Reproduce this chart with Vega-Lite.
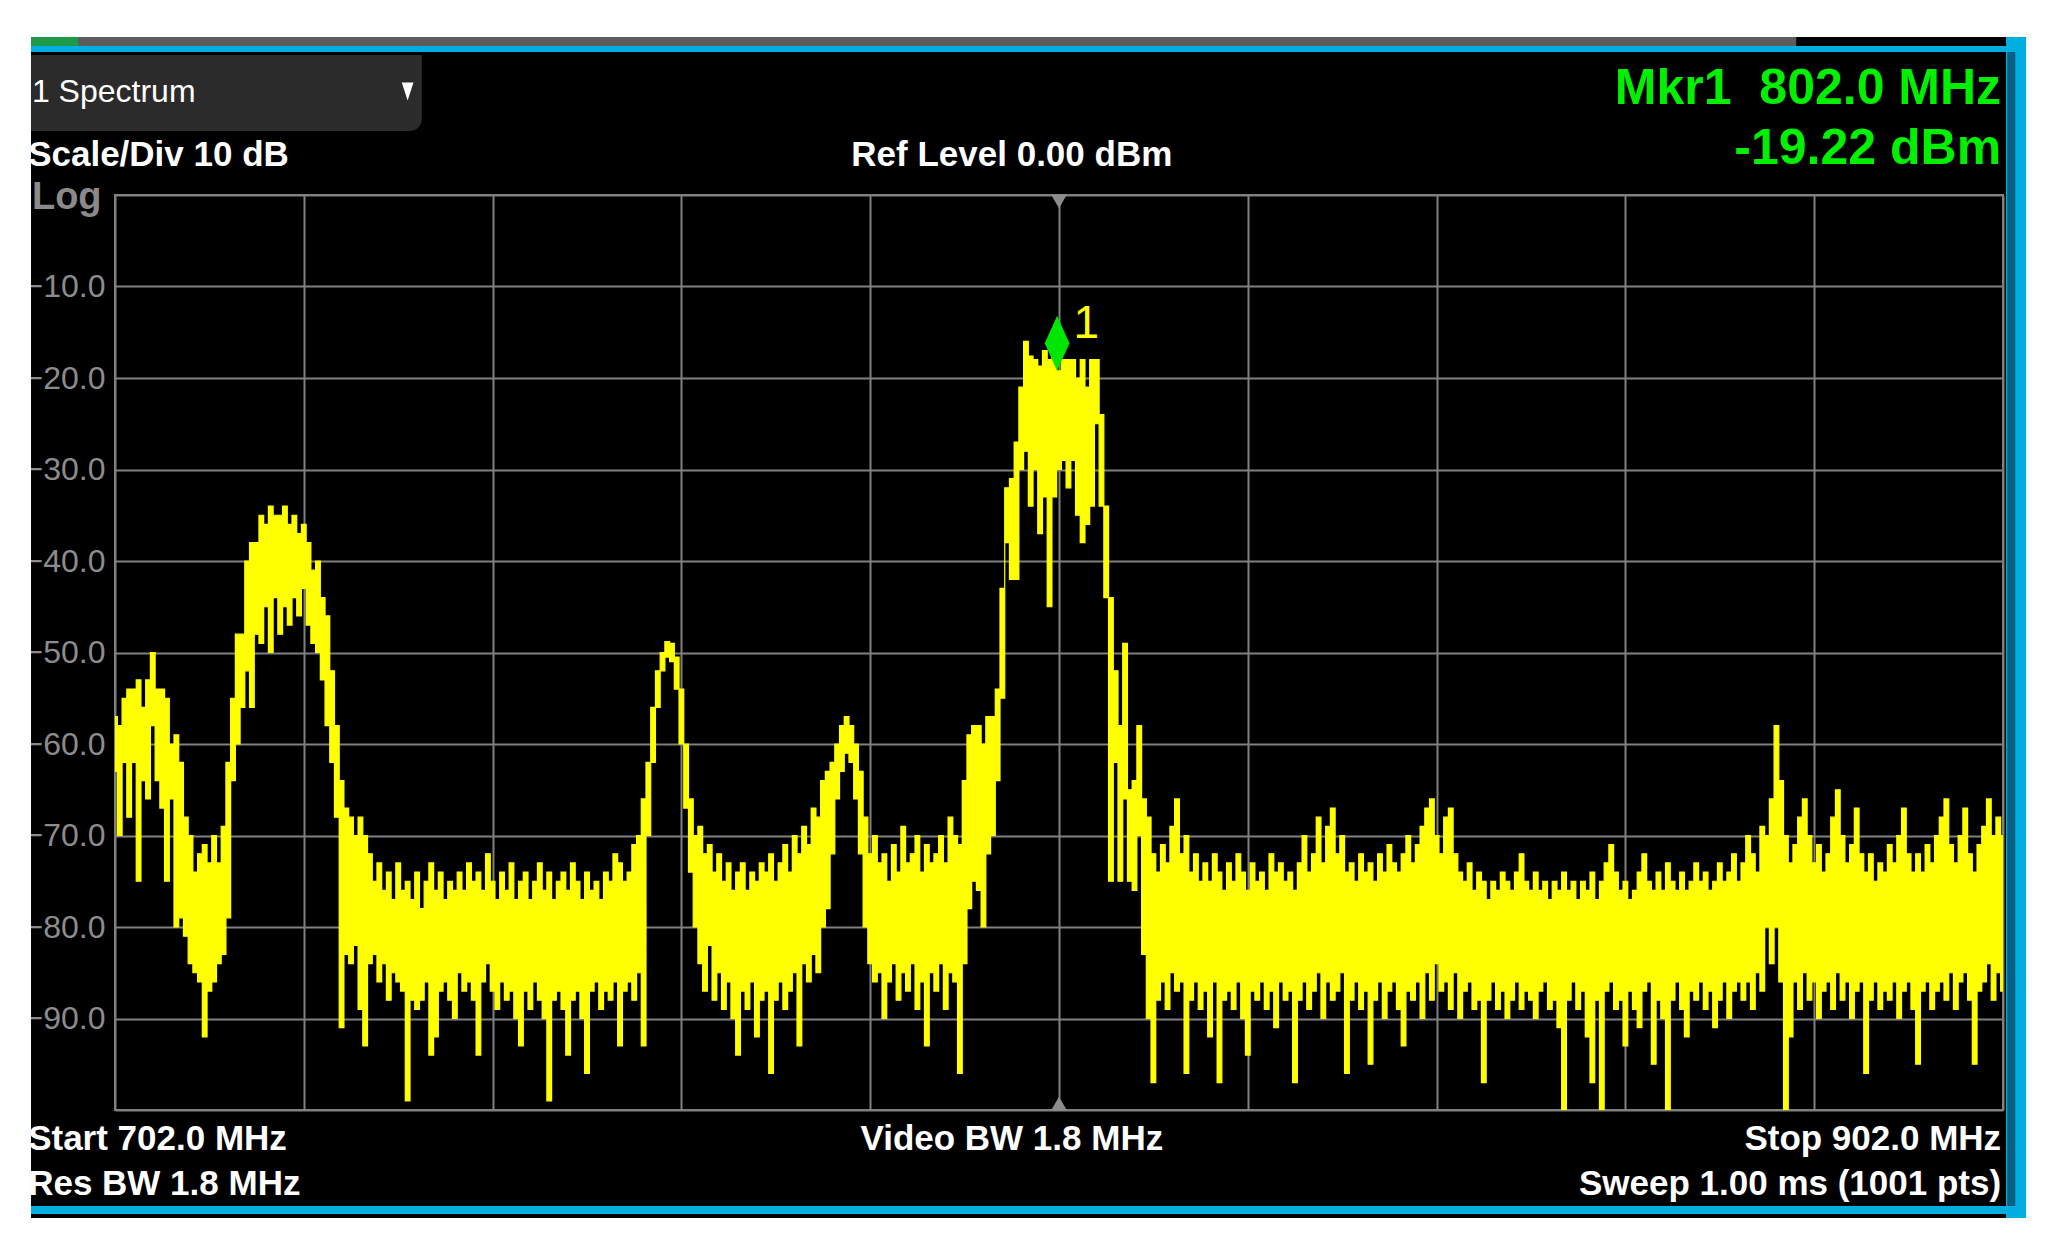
{
"$schema": "https://vega.github.io/schema/vega-lite/v6.json",
"width": 1888, "height": 915,
"autosize": {"type": "none"},
"padding": {"left": 115, "top": 195, "right": 50, "bottom": 141},
"background": "#000000",
"config": {"view": {"stroke": "#808080", "strokeWidth": 2}, "font": "Liberation Sans"},
"layer": [
{"data": {"values": [{}]}, "mark": {"type": "rect", "color": "#2b2b2b", "cornerRadiusBottomRight": 12, "clip": false},
 "encoding": {"x": {"datum": 693.1, "type": "quantitative"}, "x2": {"datum": 734.5}, "y": {"datum": 15.3, "type": "quantitative"}, "y2": {"datum": 7.0}}},
{"data": {"values": [{}]}, "mark": {"type": "rect", "color": "#5c5c5c", "clip": false},
 "encoding": {"x": {"datum": 693.1, "type": "quantitative"}, "x2": {"datum": 880.1}, "y": {"datum": 17.27, "type": "quantitative"}, "y2": {"datum": 16.28}}},
{"data": {"values": [{}]}, "mark": {"type": "rect", "color": "#1f9a4a", "clip": false},
 "encoding": {"x": {"datum": 693.1, "type": "quantitative"}, "x2": {"datum": 698.1}, "y": {"datum": 17.27, "type": "quantitative"}, "y2": {"datum": 16.28}}},
{"data": {"values": [{}]}, "mark": {"type": "rect", "color": "#00aee0", "clip": false},
 "encoding": {"x": {"datum": 693.1, "type": "quantitative"}, "x2": {"datum": 904.44}, "y": {"datum": 16.28, "type": "quantitative"}, "y2": {"datum": 15.63}}},
{"data": {"values": [{}]}, "mark": {"type": "rect", "color": "#00aee0", "clip": false},
 "encoding": {"x": {"datum": 693.1, "type": "quantitative"}, "x2": {"datum": 904.44}, "y": {"datum": -110.49, "type": "quantitative"}, "y2": {"datum": -111.37}}},
{"data": {"values": [
{"f":702,"hi":-57,"lo":-63},{"f":702.5,"hi":-58,"lo":-70},{"f":703,"hi":-55,"lo":-62},{"f":703.5,"hi":-54,"lo":-68},{"f":704,"hi":-54,"lo":-62},{"f":704.5,"hi":-53,"lo":-75},{"f":705,"hi":-56,"lo":-64},{"f":705.5,"hi":-53,"lo":-66},{"f":706,"hi":-50,"lo":-58},{"f":706.5,"hi":-54,"lo":-64},
{"f":707,"hi":-54,"lo":-67},{"f":707.5,"hi":-55,"lo":-75},{"f":708,"hi":-60,"lo":-66},{"f":708.5,"hi":-59,"lo":-80},{"f":709,"hi":-62,"lo":-79},{"f":709.5,"hi":-68,"lo":-81},{"f":710,"hi":-70,"lo":-84},{"f":710.5,"hi":-74,"lo":-85},{"f":711,"hi":-72,"lo":-86},{"f":711.5,"hi":-71,"lo":-92},
{"f":712,"hi":-73,"lo":-87},{"f":712.5,"hi":-70,"lo":-86},{"f":713,"hi":-73,"lo":-84},{"f":713.5,"hi":-69,"lo":-83},{"f":714,"hi":-62,"lo":-79},{"f":714.5,"hi":-55,"lo":-64},{"f":715,"hi":-48,"lo":-60},{"f":715.5,"hi":-48,"lo":-56},{"f":716,"hi":-40,"lo":-52},{"f":716.5,"hi":-38,"lo":-56},
{"f":717,"hi":-38,"lo":-48},{"f":717.5,"hi":-35,"lo":-49},{"f":718,"hi":-36,"lo":-45},{"f":718.5,"hi":-34,"lo":-50},{"f":719,"hi":-35,"lo":-44},{"f":719.5,"hi":-35,"lo":-48},{"f":720,"hi":-34,"lo":-45},{"f":720.5,"hi":-36,"lo":-47},{"f":721,"hi":-35,"lo":-44},{"f":721.5,"hi":-37,"lo":-46},
{"f":722,"hi":-36,"lo":-43},{"f":722.5,"hi":-38,"lo":-47},{"f":723,"hi":-41,"lo":-49},{"f":723.5,"hi":-40,"lo":-50},{"f":724,"hi":-44,"lo":-53},{"f":724.5,"hi":-46,"lo":-58},{"f":725,"hi":-52,"lo":-62},{"f":725.5,"hi":-58,"lo":-68},{"f":726,"hi":-64,"lo":-91},{"f":726.5,"hi":-67,"lo":-83},
{"f":727,"hi":-68,"lo":-84},{"f":727.5,"hi":-70,"lo":-82},{"f":728,"hi":-68,"lo":-89},{"f":728.5,"hi":-70,"lo":-93},{"f":729,"hi":-72,"lo":-84},{"f":729.5,"hi":-75,"lo":-83},{"f":730,"hi":-73,"lo":-86},{"f":730.5,"hi":-76,"lo":-84},{"f":731,"hi":-74,"lo":-88},{"f":731.5,"hi":-77,"lo":-85},
{"f":732,"hi":-73,"lo":-86},{"f":732.5,"hi":-76,"lo":-87},{"f":733,"hi":-75,"lo":-99},{"f":733.5,"hi":-77,"lo":-88},{"f":734,"hi":-74,"lo":-89},{"f":734.5,"hi":-78,"lo":-88},{"f":735,"hi":-75,"lo":-86},{"f":735.5,"hi":-73,"lo":-94},{"f":736,"hi":-76,"lo":-92},{"f":736.5,"hi":-74,"lo":-87},
{"f":737,"hi":-77,"lo":-86},{"f":737.5,"hi":-75,"lo":-88},{"f":738,"hi":-76,"lo":-90},{"f":738.5,"hi":-74,"lo":-85},{"f":739,"hi":-76,"lo":-87},{"f":739.5,"hi":-73,"lo":-86},{"f":740,"hi":-75,"lo":-88},{"f":740.5,"hi":-74,"lo":-94},{"f":741,"hi":-76,"lo":-86},{"f":741.5,"hi":-72,"lo":-84},
{"f":742,"hi":-75,"lo":-87},{"f":742.5,"hi":-77,"lo":-89},{"f":743,"hi":-74,"lo":-86},{"f":743.5,"hi":-76,"lo":-88},{"f":744,"hi":-73,"lo":-87},{"f":744.5,"hi":-77,"lo":-90},{"f":745,"hi":-75,"lo":-93},{"f":745.5,"hi":-74,"lo":-87},{"f":746,"hi":-77,"lo":-89},{"f":746.5,"hi":-75,"lo":-86},
{"f":747,"hi":-73,"lo":-88},{"f":747.5,"hi":-76,"lo":-90},{"f":748,"hi":-74,"lo":-99},{"f":748.5,"hi":-77,"lo":-88},{"f":749,"hi":-75,"lo":-87},{"f":749.5,"hi":-74,"lo":-89},{"f":750,"hi":-76,"lo":-94},{"f":750.5,"hi":-73,"lo":-88},{"f":751,"hi":-75,"lo":-87},{"f":751.5,"hi":-77,"lo":-90},
{"f":752,"hi":-74,"lo":-96},{"f":752.5,"hi":-76,"lo":-87},{"f":753,"hi":-75,"lo":-86},{"f":753.5,"hi":-77,"lo":-89},{"f":754,"hi":-74,"lo":-87},{"f":754.5,"hi":-75,"lo":-88},{"f":755,"hi":-72,"lo":-86},{"f":755.5,"hi":-73,"lo":-93},{"f":756,"hi":-75,"lo":-87},{"f":756.5,"hi":-74,"lo":-86},
{"f":757,"hi":-71,"lo":-88},{"f":757.5,"hi":-70,"lo":-85},{"f":758,"hi":-66,"lo":-93},{"f":758.5,"hi":-62,"lo":-70},{"f":759,"hi":-56,"lo":-62},{"f":759.5,"hi":-52,"lo":-56},{"f":760,"hi":-50,"lo":-52},{"f":760.5,"hi":-48.8,"lo":-50.5},{"f":761,"hi":-49,"lo":-51},{"f":761.5,"hi":-50.5,"lo":-54},
{"f":762,"hi":-54,"lo":-60},{"f":762.5,"hi":-60,"lo":-67},{"f":763,"hi":-66,"lo":-74},{"f":763.5,"hi":-70,"lo":-80},{"f":764,"hi":-69,"lo":-84},{"f":764.5,"hi":-72,"lo":-87},{"f":765,"hi":-71,"lo":-82},{"f":765.5,"hi":-74,"lo":-88},{"f":766,"hi":-72,"lo":-85},{"f":766.5,"hi":-75,"lo":-89},
{"f":767,"hi":-73,"lo":-86},{"f":767.5,"hi":-76,"lo":-90},{"f":768,"hi":-74,"lo":-94},{"f":768.5,"hi":-73,"lo":-87},{"f":769,"hi":-76,"lo":-89},{"f":769.5,"hi":-74,"lo":-86},{"f":770,"hi":-75,"lo":-92},{"f":770.5,"hi":-73,"lo":-88},{"f":771,"hi":-74,"lo":-87},{"f":771.5,"hi":-72,"lo":-96},
{"f":772,"hi":-75,"lo":-88},{"f":772.5,"hi":-73,"lo":-86},{"f":773,"hi":-71,"lo":-89},{"f":773.5,"hi":-74,"lo":-87},{"f":774,"hi":-70,"lo":-85},{"f":774.5,"hi":-72,"lo":-93},{"f":775,"hi":-69,"lo":-84},{"f":775.5,"hi":-71,"lo":-86},{"f":776,"hi":-67,"lo":-83},{"f":776.5,"hi":-68,"lo":-85},
{"f":777,"hi":-64,"lo":-80},{"f":777.5,"hi":-63,"lo":-78},{"f":778,"hi":-62,"lo":-72},{"f":778.5,"hi":-60,"lo":-66},{"f":779,"hi":-58,"lo":-63},{"f":779.5,"hi":-57,"lo":-61},{"f":780,"hi":-58,"lo":-62},{"f":780.5,"hi":-60,"lo":-66},{"f":781,"hi":-63,"lo":-72},{"f":781.5,"hi":-68,"lo":-80},
{"f":782,"hi":-72,"lo":-84},{"f":782.5,"hi":-70,"lo":-86},{"f":783,"hi":-73,"lo":-85},{"f":783.5,"hi":-72,"lo":-90},{"f":784,"hi":-75,"lo":-86},{"f":784.5,"hi":-71,"lo":-84},{"f":785,"hi":-74,"lo":-88},{"f":785.5,"hi":-69,"lo":-85},{"f":786,"hi":-73,"lo":-87},{"f":786.5,"hi":-72,"lo":-84},
{"f":787,"hi":-70,"lo":-89},{"f":787.5,"hi":-74,"lo":-86},{"f":788,"hi":-71,"lo":-93},{"f":788.5,"hi":-73,"lo":-85},{"f":789,"hi":-72,"lo":-87},{"f":789.5,"hi":-70,"lo":-84},{"f":790,"hi":-73,"lo":-89},{"f":790.5,"hi":-68,"lo":-85},{"f":791,"hi":-70,"lo":-86},{"f":791.5,"hi":-71,"lo":-96},
{"f":792,"hi":-64,"lo":-84},{"f":792.5,"hi":-59,"lo":-78},{"f":793,"hi":-58,"lo":-75},{"f":793.5,"hi":-58,"lo":-76},{"f":794,"hi":-60,"lo":-80},{"f":794.5,"hi":-57,"lo":-72},{"f":795,"hi":-57,"lo":-70},{"f":795.5,"hi":-54,"lo":-64},{"f":796,"hi":-43,"lo":-55},{"f":796.5,"hi":-32,"lo":-38},
{"f":797,"hi":-31,"lo":-42},{"f":797.5,"hi":-27,"lo":-42},{"f":798,"hi":-21,"lo":-30},{"f":798.5,"hi":-16,"lo":-28},{"f":799,"hi":-17.6,"lo":-34},{"f":799.5,"hi":-18,"lo":-30},{"f":800,"hi":-18.7,"lo":-37},{"f":800.5,"hi":-17,"lo":-33},{"f":801,"hi":-18,"lo":-45},{"f":801.5,"hi":-17,"lo":-33},
{"f":802,"hi":-19.22,"lo":-30},{"f":802.5,"hi":-18,"lo":-29},{"f":803,"hi":-18,"lo":-32},{"f":803.5,"hi":-18,"lo":-29},{"f":804,"hi":-20,"lo":-35},{"f":804.5,"hi":-18,"lo":-38},{"f":805,"hi":-21,"lo":-36},{"f":805.5,"hi":-18,"lo":-34},{"f":806,"hi":-18,"lo":-25},{"f":806.5,"hi":-24,"lo":-34},
{"f":807,"hi":-34,"lo":-44},{"f":807.5,"hi":-44,"lo":-75},{"f":808,"hi":-52,"lo":-62},{"f":808.5,"hi":-58,"lo":-75},{"f":809,"hi":-49,"lo":-66},{"f":809.5,"hi":-65,"lo":-75},{"f":810,"hi":-64,"lo":-76},{"f":810.5,"hi":-58,"lo":-70},{"f":811,"hi":-66,"lo":-83},{"f":811.5,"hi":-68,"lo":-90},
{"f":812,"hi":-72,"lo":-97},{"f":812.5,"hi":-74,"lo":-88},{"f":813,"hi":-71,"lo":-86},{"f":813.5,"hi":-73,"lo":-89},{"f":814,"hi":-69,"lo":-85},{"f":814.5,"hi":-66,"lo":-87},{"f":815,"hi":-72,"lo":-86},{"f":815.5,"hi":-70,"lo":-96},{"f":816,"hi":-74,"lo":-88},{"f":816.5,"hi":-72,"lo":-86},
{"f":817,"hi":-75,"lo":-89},{"f":817.5,"hi":-73,"lo":-87},{"f":818,"hi":-75,"lo":-92},{"f":818.5,"hi":-72,"lo":-86},{"f":819,"hi":-74,"lo":-97},{"f":819.5,"hi":-76,"lo":-88},{"f":820,"hi":-73,"lo":-87},{"f":820.5,"hi":-75,"lo":-89},{"f":821,"hi":-72,"lo":-86},{"f":821.5,"hi":-74,"lo":-90},
{"f":822,"hi":-76,"lo":-94},{"f":822.5,"hi":-73,"lo":-87},{"f":823,"hi":-75,"lo":-88},{"f":823.5,"hi":-74,"lo":-86},{"f":824,"hi":-76,"lo":-89},{"f":824.5,"hi":-72,"lo":-87},{"f":825,"hi":-74,"lo":-91},{"f":825.5,"hi":-73,"lo":-86},{"f":826,"hi":-75,"lo":-88},{"f":826.5,"hi":-74,"lo":-87},
{"f":827,"hi":-76,"lo":-97},{"f":827.5,"hi":-73,"lo":-88},{"f":828,"hi":-70,"lo":-86},{"f":828.5,"hi":-74,"lo":-89},{"f":829,"hi":-72,"lo":-87},{"f":829.5,"hi":-68,"lo":-85},{"f":830,"hi":-73,"lo":-90},{"f":830.5,"hi":-69,"lo":-86},{"f":831,"hi":-67,"lo":-88},{"f":831.5,"hi":-72,"lo":-87},
{"f":832,"hi":-70,"lo":-85},{"f":832.5,"hi":-74,"lo":-96},{"f":833,"hi":-73,"lo":-88},{"f":833.5,"hi":-75,"lo":-86},{"f":834,"hi":-72,"lo":-89},{"f":834.5,"hi":-74,"lo":-87},{"f":835,"hi":-73,"lo":-95},{"f":835.5,"hi":-75,"lo":-88},{"f":836,"hi":-72,"lo":-86},{"f":836.5,"hi":-74,"lo":-90},
{"f":837,"hi":-71,"lo":-87},{"f":837.5,"hi":-73,"lo":-86},{"f":838,"hi":-74,"lo":-89},{"f":838.5,"hi":-72,"lo":-93},{"f":839,"hi":-70,"lo":-87},{"f":839.5,"hi":-73,"lo":-88},{"f":840,"hi":-71,"lo":-86},{"f":840.5,"hi":-69,"lo":-90},{"f":841,"hi":-67,"lo":-85},{"f":841.5,"hi":-66,"lo":-88},
{"f":842,"hi":-70,"lo":-84},{"f":842.5,"hi":-72,"lo":-87},{"f":843,"hi":-68,"lo":-86},{"f":843.5,"hi":-67,"lo":-89},{"f":844,"hi":-72,"lo":-85},{"f":844.5,"hi":-74,"lo":-90},{"f":845,"hi":-75,"lo":-87},{"f":845.5,"hi":-73,"lo":-86},{"f":846,"hi":-76,"lo":-89},{"f":846.5,"hi":-74,"lo":-88},
{"f":847,"hi":-75,"lo":-97},{"f":847.5,"hi":-77,"lo":-88},{"f":848,"hi":-75,"lo":-86},{"f":848.5,"hi":-76,"lo":-89},{"f":849,"hi":-74,"lo":-87},{"f":849.5,"hi":-75,"lo":-90},{"f":850,"hi":-76,"lo":-88},{"f":850.5,"hi":-74,"lo":-86},{"f":851,"hi":-72,"lo":-89},{"f":851.5,"hi":-75,"lo":-87},
{"f":852,"hi":-76,"lo":-88},{"f":852.5,"hi":-74,"lo":-90},{"f":853,"hi":-76,"lo":-87},{"f":853.5,"hi":-75,"lo":-86},{"f":854,"hi":-77,"lo":-89},{"f":854.5,"hi":-75,"lo":-88},{"f":855,"hi":-76,"lo":-91},{"f":855.5,"hi":-74,"lo":-100},{"f":856,"hi":-76,"lo":-88},{"f":856.5,"hi":-75,"lo":-86},
{"f":857,"hi":-77,"lo":-89},{"f":857.5,"hi":-75,"lo":-87},{"f":858,"hi":-76,"lo":-92},{"f":858.5,"hi":-74,"lo":-97},{"f":859,"hi":-77,"lo":-88},{"f":859.5,"hi":-75,"lo":-100},{"f":860,"hi":-73,"lo":-87},{"f":860.5,"hi":-71,"lo":-86},{"f":861,"hi":-74,"lo":-89},{"f":861.5,"hi":-76,"lo":-88},
{"f":862,"hi":-75,"lo":-93},{"f":862.5,"hi":-77,"lo":-87},{"f":863,"hi":-76,"lo":-89},{"f":863.5,"hi":-74,"lo":-91},{"f":864,"hi":-72,"lo":-87},{"f":864.5,"hi":-75,"lo":-86},{"f":865,"hi":-76,"lo":-95},{"f":865.5,"hi":-74,"lo":-88},{"f":866,"hi":-76,"lo":-90},{"f":866.5,"hi":-73,"lo":-100},
{"f":867,"hi":-75,"lo":-88},{"f":867.5,"hi":-76,"lo":-86},{"f":868,"hi":-74,"lo":-89},{"f":868.5,"hi":-76,"lo":-92},{"f":869,"hi":-75,"lo":-87},{"f":869.5,"hi":-73,"lo":-88},{"f":870,"hi":-75,"lo":-86},{"f":870.5,"hi":-74,"lo":-89},{"f":871,"hi":-76,"lo":-87},{"f":871.5,"hi":-75,"lo":-91},
{"f":872,"hi":-73,"lo":-88},{"f":872.5,"hi":-75,"lo":-86},{"f":873,"hi":-74,"lo":-90},{"f":873.5,"hi":-72,"lo":-87},{"f":874,"hi":-75,"lo":-86},{"f":874.5,"hi":-73,"lo":-88},{"f":875,"hi":-70,"lo":-86},{"f":875.5,"hi":-72,"lo":-89},{"f":876,"hi":-74,"lo":-85},{"f":876.5,"hi":-69,"lo":-87},
{"f":877,"hi":-70,"lo":-80},{"f":877.5,"hi":-66,"lo":-84},{"f":878,"hi":-58,"lo":-80},{"f":878.5,"hi":-64,"lo":-86},{"f":879,"hi":-70,"lo":-100},{"f":879.5,"hi":-73,"lo":-92},{"f":880,"hi":-71,"lo":-86},{"f":880.5,"hi":-68,"lo":-89},{"f":881,"hi":-66,"lo":-85},{"f":881.5,"hi":-70,"lo":-88},
{"f":882,"hi":-73,"lo":-86},{"f":882.5,"hi":-71,"lo":-90},{"f":883,"hi":-74,"lo":-87},{"f":883.5,"hi":-72,"lo":-86},{"f":884,"hi":-68,"lo":-89},{"f":884.5,"hi":-65,"lo":-85},{"f":885,"hi":-70,"lo":-88},{"f":885.5,"hi":-73,"lo":-86},{"f":886,"hi":-71,"lo":-90},{"f":886.5,"hi":-67,"lo":-87},
{"f":887,"hi":-72,"lo":-86},{"f":887.5,"hi":-74,"lo":-96},{"f":888,"hi":-72,"lo":-88},{"f":888.5,"hi":-75,"lo":-86},{"f":889,"hi":-73,"lo":-89},{"f":889.5,"hi":-74,"lo":-87},{"f":890,"hi":-71,"lo":-88},{"f":890.5,"hi":-73,"lo":-86},{"f":891,"hi":-70,"lo":-90},{"f":891.5,"hi":-67,"lo":-87},
{"f":892,"hi":-72,"lo":-86},{"f":892.5,"hi":-74,"lo":-89},{"f":893,"hi":-72,"lo":-95},{"f":893.5,"hi":-74,"lo":-87},{"f":894,"hi":-71,"lo":-86},{"f":894.5,"hi":-73,"lo":-89},{"f":895,"hi":-70,"lo":-87},{"f":895.5,"hi":-68,"lo":-86},{"f":896,"hi":-66,"lo":-88},{"f":896.5,"hi":-71,"lo":-85},
{"f":897,"hi":-73,"lo":-89},{"f":897.5,"hi":-70,"lo":-86},{"f":898,"hi":-67,"lo":-85},{"f":898.5,"hi":-72,"lo":-88},{"f":899,"hi":-74,"lo":-95},{"f":899.5,"hi":-71,"lo":-87},{"f":900,"hi":-69,"lo":-86},{"f":900.5,"hi":-66,"lo":-84},{"f":901,"hi":-70,"lo":-88},{"f":901.5,"hi":-68,"lo":-85},
{"f":902,"hi":-70,"lo":-87}
 ]},
 "mark": {"type": "area", "interpolate": "step", "color": "#ffff00", "stroke": "#ffff00", "strokeWidth": 1.2, "opacity": 1, "clip": true},
 "encoding": {
  "x": {"field": "f", "type": "quantitative", "scale": {"domain": [702, 902], "nice": false, "zero": false},
   "axis": {"values": [702, 722, 742, 762, 782, 802, 822, 842, 862, 882, 902], "grid": true, "gridColor": "#808080", "gridWidth": 2, "labels": false, "ticks": false, "domain": false, "title": null}},
  "y": {"field": "hi", "type": "quantitative", "scale": {"domain": [-100, 0], "nice": false, "zero": false},
   "axis": {"values": [-100, -90, -80, -70, -60, -50, -40, -30, -20, -10, 0], "grid": true, "gridColor": "#808080", "gridWidth": 2, "ticks": false, "domain": false, "title": null,
    "labelExpr": "datum.value == 0 || datum.value == -100 ? '' : format(datum.value, '.1f')",
    "labelColor": "#8c8c8c", "labelFontSize": 32, "labelFont": "Liberation Sans", "labelPadding": 10, "labelFlush": false, "labelOverlap": false}},
  "y2": {"field": "lo"}
 }},
{"data": {"values": [{}]}, "mark": {"type": "point", "shape": "triangle-down", "filled": true, "color": "#8c8c8c", "opacity": 1, "size": 256, "clip": false},
 "encoding": {"x": {"datum": 802, "type": "quantitative"}, "y": {"datum": -0.7, "type": "quantitative"}}},
{"data": {"values": [{}]}, "mark": {"type": "point", "shape": "triangle-up", "filled": true, "color": "#8c8c8c", "opacity": 1, "size": 256, "clip": false},
 "encoding": {"x": {"datum": 802, "type": "quantitative"}, "y": {"datum": -99.3, "type": "quantitative"}}},
{"data": {"values": [{}]}, "mark": {"type": "point", "shape": "M0,-1L0.45,0L0,1L-0.45,0Z", "filled": true, "color": "#00e600", "opacity": 1, "size": 3025, "clip": false},
 "encoding": {"x": {"datum": 801.8, "type": "quantitative"}, "y": {"datum": -16.2, "type": "quantitative"}}},
{"data": {"values": [{}]}, "mark": {"type": "text", "text": "1", "color": "#ffff00", "fontSize": 46, "align": "center", "baseline": "middle", "clip": false},
 "encoding": {"x": {"datum": 804.9, "type": "quantitative"}, "y": {"datum": -14.1, "type": "quantitative"}}},
{"data": {"values": [{}]}, "mark": {"type": "text", "text": "1 Spectrum", "color": "#ffffff", "fontSize": 32, "align": "left", "baseline": "middle", "clip": false},
 "encoding": {"x": {"datum": 693.2, "type": "quantitative"}, "y": {"datum": 11.3, "type": "quantitative"}}},
{"data": {"values": [{}]}, "mark": {"type": "point", "shape": "M-0.65,-1L0.65,-1L0,1Z", "filled": true, "color": "#ffffff", "opacity": 1, "size": 324, "clip": false},
 "encoding": {"x": {"datum": 733.0, "type": "quantitative"}, "y": {"datum": 11.3, "type": "quantitative"}}},
{"data": {"values": [{}]}, "mark": {"type": "text", "text": "Scale/Div 10 dB", "color": "#ffffff", "fontSize": 35, "fontWeight": "bold", "align": "left", "baseline": "middle", "clip": false},
 "encoding": {"x": {"datum": 692.8, "type": "quantitative"}, "y": {"datum": 4.4, "type": "quantitative"}}},
{"data": {"values": [{}]}, "mark": {"type": "text", "text": "Log", "color": "#8a8a8a", "fontSize": 38, "fontWeight": "bold", "align": "left", "baseline": "middle", "clip": false},
 "encoding": {"x": {"datum": 693.2, "type": "quantitative"}, "y": {"datum": -0.3, "type": "quantitative"}}},
{"data": {"values": [{}]}, "mark": {"type": "text", "text": "Ref Level 0.00 dBm", "color": "#ffffff", "fontSize": 35, "fontWeight": "bold", "align": "center", "baseline": "middle", "clip": false},
 "encoding": {"x": {"datum": 797.0, "type": "quantitative"}, "y": {"datum": 4.4, "type": "quantitative"}}},
{"data": {"values": [{}]}, "mark": {"type": "text", "text": "Mkr1\u00a0\u00a0802.0 MHz", "color": "#00f000", "fontSize": 50, "fontWeight": "bold", "align": "right", "baseline": "middle", "clip": false},
 "encoding": {"x": {"datum": 901.8, "type": "quantitative"}, "y": {"datum": 11.6, "type": "quantitative"}}},
{"data": {"values": [{}]}, "mark": {"type": "text", "text": "-19.22 dBm", "color": "#00f000", "fontSize": 50, "fontWeight": "bold", "align": "right", "baseline": "middle", "clip": false},
 "encoding": {"x": {"datum": 901.8, "type": "quantitative"}, "y": {"datum": 5.0, "type": "quantitative"}}},
{"data": {"values": [{}]}, "mark": {"type": "text", "text": "Start 702.0 MHz", "color": "#ffffff", "fontSize": 35, "fontWeight": "bold", "align": "left", "baseline": "middle", "clip": false},
 "encoding": {"x": {"datum": 692.8, "type": "quantitative"}, "y": {"datum": -103.2, "type": "quantitative"}}},
{"data": {"values": [{}]}, "mark": {"type": "text", "text": "Res BW 1.8 MHz", "color": "#ffffff", "fontSize": 35, "fontWeight": "bold", "align": "left", "baseline": "middle", "clip": false},
 "encoding": {"x": {"datum": 692.8, "type": "quantitative"}, "y": {"datum": -108.1, "type": "quantitative"}}},
{"data": {"values": [{}]}, "mark": {"type": "text", "text": "Video BW 1.8 MHz", "color": "#ffffff", "fontSize": 35, "fontWeight": "bold", "align": "center", "baseline": "middle", "clip": false},
 "encoding": {"x": {"datum": 797.0, "type": "quantitative"}, "y": {"datum": -103.2, "type": "quantitative"}}},
{"data": {"values": [{}]}, "mark": {"type": "text", "text": "Stop 902.0 MHz", "color": "#ffffff", "fontSize": 35, "fontWeight": "bold", "align": "right", "baseline": "middle", "clip": false},
 "encoding": {"x": {"datum": 901.8, "type": "quantitative"}, "y": {"datum": -103.2, "type": "quantitative"}}},
{"data": {"values": [{}]}, "mark": {"type": "text", "text": "Sweep 1.00 ms (1001 pts)", "color": "#ffffff", "fontSize": 35, "fontWeight": "bold", "align": "right", "baseline": "middle", "clip": false},
 "encoding": {"x": {"datum": 901.8, "type": "quantitative"}, "y": {"datum": -108.1, "type": "quantitative"}}},
{"data": {"values": [{}]}, "mark": {"type": "rect", "color": "#ffffff", "clip": false},
 "encoding": {"x": {"datum": 670, "type": "quantitative"}, "x2": {"datum": 693.1}, "y": {"datum": 40, "type": "quantitative"}, "y2": {"datum": -140}}},
{"data": {"values": [{}]}, "mark": {"type": "rect", "color": "#ffffff", "clip": false},
 "encoding": {"x": {"datum": 670, "type": "quantitative"}, "x2": {"datum": 930}, "y": {"datum": 40, "type": "quantitative"}, "y2": {"datum": 17.27}}},
{"data": {"values": [{}]}, "mark": {"type": "rect", "color": "#ffffff", "clip": false},
 "encoding": {"x": {"datum": 670, "type": "quantitative"}, "x2": {"datum": 930}, "y": {"datum": -111.8, "type": "quantitative"}, "y2": {"datum": -140}}},
{"data": {"values": [{}]}, "mark": {"type": "rect", "color": "#ffffff", "clip": false},
 "encoding": {"x": {"datum": 904.44, "type": "quantitative"}, "x2": {"datum": 930}, "y": {"datum": 40, "type": "quantitative"}, "y2": {"datum": -140}}},
{"data": {"values": [{}]}, "mark": {"type": "rect", "color": "#00aee0", "clip": false},
 "encoding": {"x": {"datum": 902.32, "type": "quantitative"}, "x2": {"datum": 904.44}, "y": {"datum": 17.27, "type": "quantitative"}, "y2": {"datum": -111.8}}},
{"data": {"values": [{}]}, "mark": {"type": "rect", "color": "#0a5f85", "clip": false},
 "encoding": {"x": {"datum": 902.45, "type": "quantitative"}, "x2": {"datum": 903.3}, "y": {"datum": 15.63, "type": "quantitative"}, "y2": {"datum": -110.49}}}
]
}
